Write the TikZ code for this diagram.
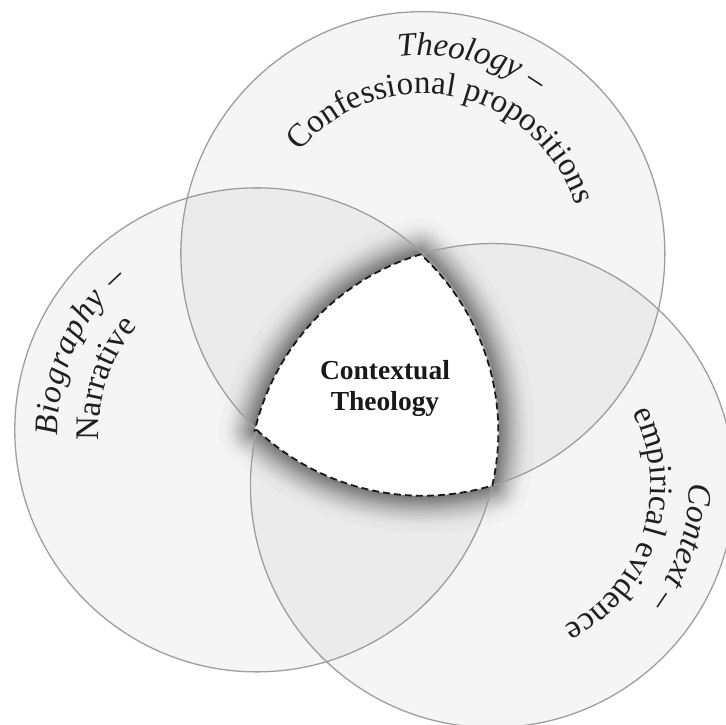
\documentclass[tikz,border=0pt]{standalone}
\usepackage{fontspec}
\setmainfont{Liberation Serif}
\usetikzlibrary{calc,decorations.text}
\tikzset{
  circfill/.style={fill=black, fill opacity=0.038},
  circline/.style={draw=black!38, line width=1.3pt},
  glowline/.style={draw=black, draw opacity=0.019, line join=round},
  reulfill/.style={fill=white},
  reulline/.style={draw=black!90, line width=1.8pt, dash pattern=on 7pt off 4pt},
  arclabel/.style={decorate, decoration={text along path, text align={fit to path}, text={#1}}},
  centerlabel/.style={align=center, inner sep=0pt, text=black!90, font=\bfseries\fontsize{27.5}{31}\selectfont}
}
\begin{document}
\begin{tikzpicture}
\useasboundingbox (0,0) rectangle (726pt,725pt);
\fill[white] (0,0) rectangle (726pt,725pt);
\coordinate (O) at (390.7pt,335.3pt);
\coordinate (T) at ($(O)+(76.7:139.8pt)$);
\coordinate (L) at ($(O)+(196.7:139.8pt)$);
\coordinate (R) at ($(O)+(316.7:139.8pt)$);
\def\rr{242pt}
\def\reul{(L) arc[start angle=226.7, end angle=286.7, radius=\rr] arc[start angle=-12.8, end angle=47.2, radius=\rr] arc[start angle=106.7, end angle=166.7, radius=\rr] -- cycle}
% circle fills
\fill[circfill] (T) circle[radius=\rr];
\fill[circfill] (L) circle[radius=\rr];
\fill[circfill] (R) circle[radius=\rr];
% soft glow round the centre region
\foreach \i in {1,...,30} {
  \pgfmathsetmacro{\gw}{72*(1-sqrt(1-\i/30))+0.6}
  \draw[glowline, line width=\gw pt] \reul;
}
% circle outlines
\draw[circline] (T) circle[radius=\rr];
\draw[circline] (L) circle[radius=\rr];
\draw[circline] (R) circle[radius=\rr];
% centre region
\fill[reulfill] \reul;
\draw[reulline] \reul;
\node[centerlabel] (ct) at (385pt,336.5pt) {Contextual\\Theology};
% labels
\path[arclabel={|\color{black!88}\itshape\fontsize{33}{38}\selectfont|Theology –}] ($(T)+(97.2:198pt)$) arc[start angle=97.2, end angle=55.1, radius=198pt];
\path[arclabel={|\color{black!88}\fontsize{33}{38}\selectfont|Confessional propositions}] ($(T)+(140.4:160pt)$) arc[start angle=140.4, end angle=17.5, radius=160pt];
\path[arclabel={|\color{black!88}\itshape\fontsize{33}{38}\selectfont|Biography –}] ($(L)+(181.7:199pt)$) arc[start angle=181.7, end angle=131, radius=199pt];
\path[arclabel={|\color{black!88}\fontsize{33}{38}\selectfont|Narrative}] ($(L)+(184:158pt)$) arc[start angle=184, end angle=140, radius=158pt];
\path[arclabel={|\color{black!88}\itshape\fontsize{33}{38}\selectfont|Context –}] ($(R)+(0.6:197pt)$) arc[start angle=0.6, end angle=-35.7, radius=197pt];
\path[arclabel={|\color{black!88}\fontsize{33}{38}\selectfont|empirical evidence}] ($(R)+(27.7:158pt)$) arc[start angle=27.7, end angle=-62, radius=158pt];
\end{tikzpicture}
\end{document}
